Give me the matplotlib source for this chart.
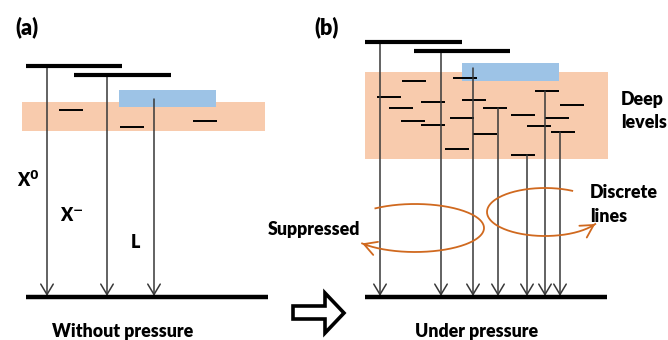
import numpy as np
import matplotlib
matplotlib.use("Agg")
import matplotlib.pyplot as plt
from matplotlib.patches import Rectangle, Polygon

plt.rcParams['font.family'] = ['Lato', 'DejaVu Sans']

# ---------------- data (image pixel coordinates) ----------------
# panel (a)
a_bar_x0 = [26, 74]
a_bar_x1 = [122, 171]
a_bar_y = [66, 75]
a_band = [22, 265, 102, 131]          # x0, x1, y0, y1 (deep-level band)
a_blue = [119, 216, 90, 107]          # x0, x1, y0, y1 (L band)
a_dash_x = [59, 120, 193]
a_dash_y = [110, 127, 121]
a_arrow_x = [47, 107, 154]
a_arrow_top = [66, 75, 99]
a_ground = [26, 268, 297]

# panel (b)
b_bar_x0 = [365, 414]
b_bar_x1 = [462, 510]
b_bar_y = [42, 51]
b_band = [365, 608, 72, 159]
b_blue = [462, 559, 63, 81]
b_dash_x = [402, 453, 377, 389, 421, 462, 483, 401, 421, 450, 473, 445,
            511, 535, 560, 545, 527, 551, 511]
b_dash_y = [81, 78, 97, 108, 102, 100, 108, 121, 125, 118, 134, 149,
            115, 91, 105, 118, 126, 132, 155]
b_arrow_x = [380, 441, 473, 498, 527, 545, 560]
b_arrow_top = [42, 51, 68, 108, 155, 91, 132]
b_ground = [365, 607, 297]

dash_len = 24

# curved orange arrows: centre x, centre y, rx, ry, start angle, end angle (deg)
loop_cx = [415, 545]
loop_cy = [228, 212]
loop_rx = [69, 58]
loop_ry = [24, 24]
loop_t0 = [-125, -62]
loop_t1 = [140, -330]

# hollow block arrow outline
block_x = [293, 325, 325, 344, 325, 325, 293]
block_y = [306, 306, 293, 313, 333, 319, 319]

bar_color = 'black'
line_color = '#383838'
band_color = '#f8cbad'
blue_color = '#9dc3e6'
loop_color = '#d0691f'

# ---------------- figure ----------------
fig = plt.figure(figsize=(6.68, 3.40), dpi=100)
ax = fig.add_axes([0, 0, 1, 1])
ax.set_xlim(0, 668)
ax.set_ylim(340, 0)
ax.axis('off')


def draw_panel(band, blue, bar_x0, bar_x1, bar_y, dash_x, dash_y,
               arrow_x, arrow_top, ground):
    ax.add_patch(Rectangle((band[0], band[2]), band[1] - band[0], band[3] - band[2],
                           facecolor=band_color, edgecolor='none', zorder=1))
    ax.add_patch(Rectangle((blue[0], blue[2]), blue[1] - blue[0], blue[3] - blue[2],
                           facecolor=blue_color, edgecolor='none', zorder=2))
    for x0, x1, y in zip(bar_x0, bar_x1, bar_y):
        ax.plot([x0, x1], [y, y], color=bar_color, lw=3.0,
                solid_capstyle='butt', zorder=4)
    for x, y in zip(dash_x, dash_y):
        ax.plot([x, x + dash_len], [y, y], color='black', lw=1.4,
                solid_capstyle='butt', zorder=3)
    for x, top in zip(arrow_x, arrow_top):
        ax.annotate('', xy=(x, ground[2] - 1), xytext=(x, top),
                    arrowprops=dict(arrowstyle='->,head_length=0.75,head_width=0.45',
                                    color=line_color, lw=1.1,
                                    shrinkA=0, shrinkB=0), zorder=3)
    ax.plot([ground[0], ground[1]], [ground[2], ground[2]], color='black',
            lw=3.2, solid_capstyle='butt', zorder=5)


draw_panel(a_band, a_blue, a_bar_x0, a_bar_x1, a_bar_y, a_dash_x, a_dash_y,
           a_arrow_x, a_arrow_top, a_ground)
draw_panel(b_band, b_blue, b_bar_x0, b_bar_x1, b_bar_y, b_dash_x, b_dash_y,
           b_arrow_x, b_arrow_top, b_ground)

# orange loops
for cx, cy, rx, ry, t0, t1 in zip(loop_cx, loop_cy, loop_rx, loop_ry, loop_t0, loop_t1):
    t = np.deg2rad(np.linspace(t0, t1, 200))
    xs = cx + rx * np.cos(t)
    ys = cy + ry * np.sin(t)
    ax.plot(xs, ys, color=loop_color, lw=1.3, zorder=6)
    ax.annotate('', xy=(xs[-1], ys[-1]), xytext=(xs[-6], ys[-6]),
                arrowprops=dict(arrowstyle='->,head_length=0.9,head_width=0.5',
                                color=loop_color, lw=1.3, shrinkA=0, shrinkB=0),
                zorder=6)

# block arrow
ax.add_patch(Polygon(list(zip(block_x, block_y)), closed=True, facecolor='white',
                     edgecolor='black', lw=2.6, joinstyle='miter', zorder=5))

# ---------------- text ----------------
bold = dict(fontweight='heavy', color='black')
fs = 12.8
ax.text(27, 27, '(a)', fontsize=15.5, ha='center', va='center', **bold)
ax.text(327, 27, '(b)', fontsize=15.5, ha='center', va='center', **bold)
ax.text(123, 331, 'Without pressure', fontsize=fs, ha='center', va='center', **bold)
ax.text(477, 331, 'Under pressure', fontsize=fs, ha='center', va='center', **bold)
ax.text(621, 99, 'Deep', fontsize=fs, ha='left', va='center', **bold)
ax.text(621, 122, 'levels', fontsize=fs, ha='left', va='center', **bold)
ax.text(590, 192, 'Discrete', fontsize=fs, ha='left', va='center', **bold)
ax.text(590, 216, 'lines', fontsize=fs, ha='left', va='center', **bold)
ax.text(268, 230, 'Suppressed', fontsize=fs, ha='left', va='center', **bold)
ax.text(17, 180, r'X$^{\mathbf{0}}$', fontsize=fs, ha='left', va='center', **bold)
ax.text(60, 215, r'X$^{\mathbf{-}}$', fontsize=fs, ha='left', va='center', **bold)
ax.text(131, 243, 'L', fontsize=fs, ha='left', va='center', **bold)

fig.savefig('out.png', dpi=100)
